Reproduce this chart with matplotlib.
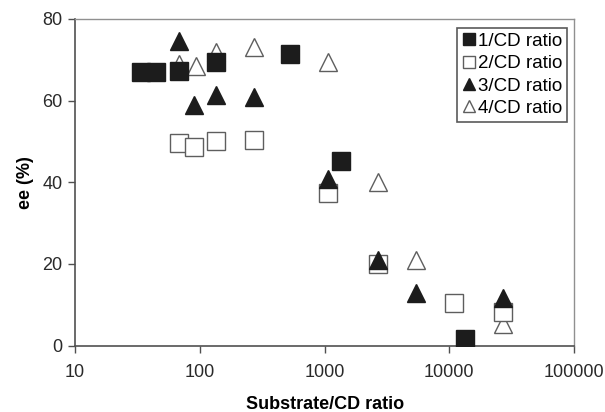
import matplotlib.pyplot as plt
import numpy as np

plt.rcParams['font.family'] = ['Liberation Sans', 'DejaVu Sans']

# substrate/CD ratio and ee (%) for each additive
x1 = [33.5, 44.5, 68, 135, 530, 1350, 13400]
y1 = [66.9, 67.0, 67.2, 69.4, 71.5, 45.2, 1.6]

x2 = [68, 90, 135, 272, 1070, 2700, 10800, 26800]
y2 = [49.6, 48.7, 50.0, 50.3, 37.5, 20.0, 10.4, 8.3]

x3 = [68, 90, 135, 272, 1070, 2700, 5400, 26800]
y3 = [74.7, 59.0, 61.3, 60.9, 40.9, 21.0, 13.0, 11.7]

x4 = [68, 93, 135, 272, 1070, 2700, 5400, 26800]
y4 = [69.0, 68.5, 71.9, 73.1, 69.4, 40.1, 21.0, 5.3]

labels = ['1/CD ratio', '2/CD ratio', '3/CD ratio', '4/CD ratio']

fig = plt.figure(figsize=(6.05, 4.12), dpi=100)
ax = fig.add_axes([0.124, 0.161, 0.825, 0.793])

ms = 13
dark = '#1c1c1c'
grey = '#5e5e5e'
h4, = ax.plot(x4, y4, '^', ms=ms, mfc='white', mec=grey, mew=1.0, zorder=2, label=labels[3])
h2, = ax.plot(x2, y2, 's', ms=ms, mfc='white', mec=grey, mew=1.0, zorder=3, label=labels[1])
h3, = ax.plot(x3, y3, '^', ms=ms, mfc=dark, mec=dark, mew=1.0, zorder=4, label=labels[2])
h1, = ax.plot(x1, y1, 's', ms=ms, mfc=dark, mec=dark, mew=1.0, zorder=5, label=labels[0])

ax.set_xscale('log')
ax.set_xlim(10, 100000)
ax.set_ylim(0, 80)
ax.set_yticks([0, 20, 40, 60, 80])
ax.set_xticks([10, 100, 1000, 10000, 100000])
ax.set_xticklabels(['10', '100', '1000', '10000', '100000'])
ax.xaxis.set_minor_locator(plt.NullLocator())

for s in ['left', 'bottom']:
    ax.spines[s].set_color('#505050')
    ax.spines[s].set_linewidth(1.2)
for s in ['top', 'right']:
    ax.spines[s].set_color('#909090')
    ax.spines[s].set_linewidth(1.0)

ax.tick_params(axis='both', direction='out', length=5, width=1, color='#505050',
               labelsize=13, labelcolor='#2a2a2a', pad=4)
ax.tick_params(axis='x', pad=8)

ax.set_xlabel('Substrate/CD ratio', fontsize=13, fontweight='bold', labelpad=11)
ax.set_ylabel('ee (%)', fontsize=13, fontweight='bold', labelpad=6)

leg = ax.legend(handles=[h1, h2, h3, h4], loc='upper right',
                bbox_to_anchor=(0.986, 0.972), fontsize=13.5, markerscale=0.68,
                handlelength=0.7, handletextpad=0.15, borderpad=0.25,
                labelspacing=0.28, borderaxespad=0, fancybox=False,
                frameon=True)
leg.get_frame().set_edgecolor('#303030')
leg.get_frame().set_linewidth(1.2)

fig.savefig('out.png', dpi=100)
